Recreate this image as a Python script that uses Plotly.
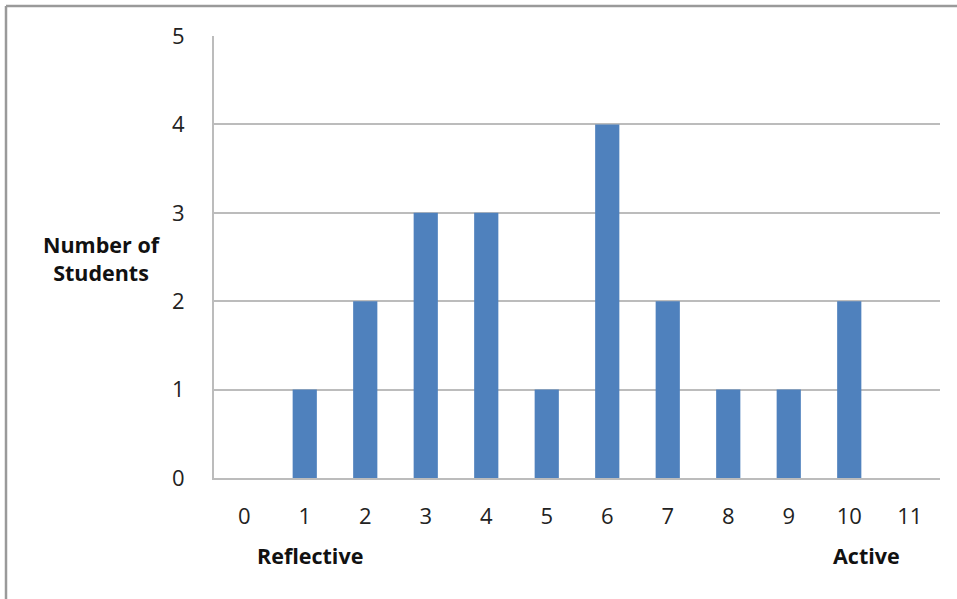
import plotly.graph_objects as go

# Learning-style scores (0 = reflective ... 11 = active) and student counts
scores = list(range(12))
students = [0, 1, 2, 3, 3, 1, 4, 2, 1, 1, 2, 0]
y_ticks = [0, 1, 2, 3, 4, 5]

BAR = "#4f81bd"
GRID = "#bcbcbc"
TEXT = "#222222"
FONT = "Open Sans"

fig = go.Figure(
    go.Bar(x=scores, y=students, width=0.4, marker=dict(color=BAR, line=dict(width=0)))
)

fig.update_layout(
    width=957,
    height=599,
    margin=dict(l=214, r=17, t=36, b=121),
    paper_bgcolor="white",
    plot_bgcolor="white",
    showlegend=False,
    font=dict(family=FONT, size=22, color=TEXT),
)

fig.update_xaxes(
    range=[-0.5, 11.5],
    tickvals=scores,
    ticktext=[str(s) for s in scores],
    showgrid=False,
    showline=True,
    linecolor=GRID,
    linewidth=2,
    ticks="",
    ticklabelstandoff=18,
    tickfont=dict(size=22, color=TEXT),
    zeroline=False,
)
fig.update_yaxes(
    range=[0, 5],
    tickvals=y_ticks,
    showgrid=True,
    gridcolor=GRID,
    gridwidth=1.5,
    showline=True,
    linecolor=GRID,
    linewidth=2,
    ticks="",
    ticklabelstandoff=23,
    tickfont=dict(size=22, color=TEXT),
    zeroline=False,
)

# Axis captions
cap_font = dict(family=FONT, size=21.5, color="#111")
fig.add_annotation(
    text="<b>Number of<br>Students</b>",
    xref="paper", yref="paper",
    x=(102 - 214) / 726, y=(478 - 258) / 442,
    xanchor="center", yanchor="middle",
    showarrow=False, align="center",
    font=cap_font,
)
fig.add_annotation(
    text="<b>Reflective</b>", xref="x", yref="paper",
    x=1.09, y=-(555 - 478) / 442, xanchor="center", yanchor="middle",
    showarrow=False, font=cap_font,
)
fig.add_annotation(
    text="<b>Active</b>", xref="x", yref="paper",
    x=10.28, y=-(555 - 478) / 442, xanchor="center", yanchor="middle",
    showarrow=False, font=cap_font,
)

# Outer frame (left and top edges)
fx = (6 - 214) / 726
fy = 1 + (36 - 6) / 442
fig.add_shape(type="line", xref="paper", yref="paper", x0=fx, x1=fx, y0=fy, y1=-(599 - 478) / 442 - 0.01,
              line=dict(color="#9a9a9a", width=2.5))
fig.add_shape(type="line", xref="paper", yref="paper", x0=fx, x1=1 + 20 / 726, y0=fy, y1=fy,
              line=dict(color="#9a9a9a", width=2.5))

fig.write_html("out.html")
